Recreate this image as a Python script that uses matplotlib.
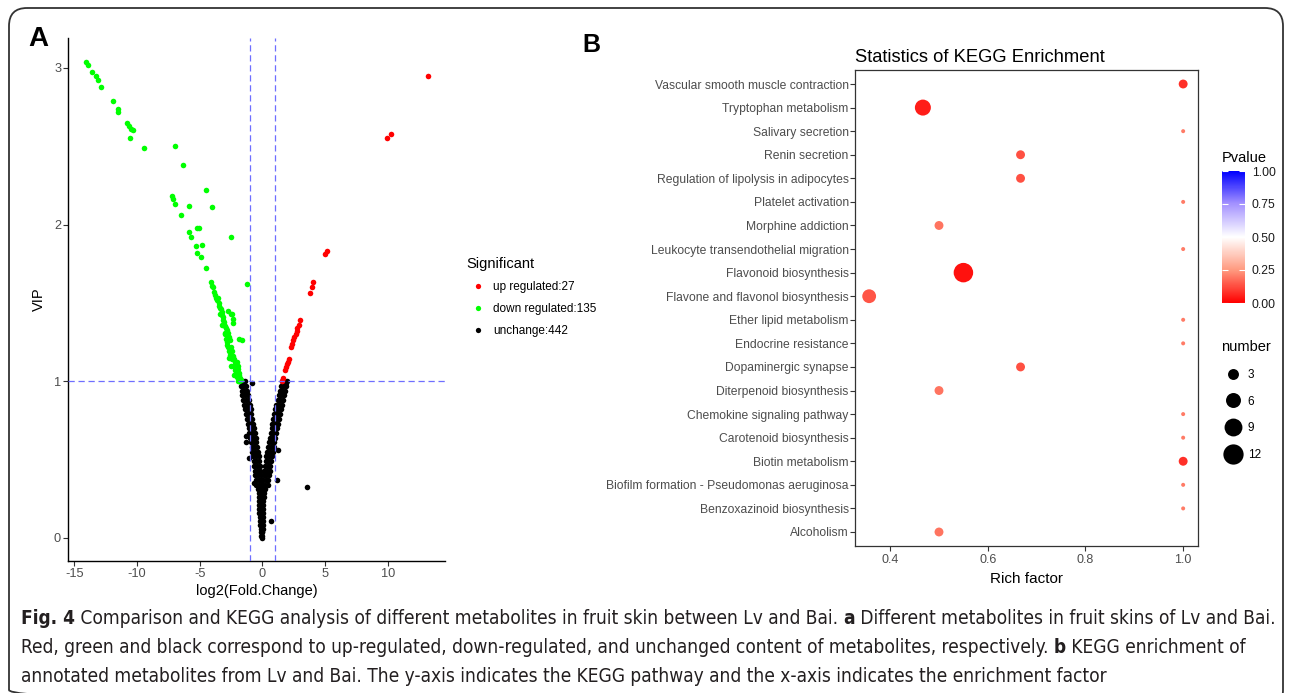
import numpy as np
import matplotlib
matplotlib.use("Agg")
import matplotlib.pyplot as plt
from matplotlib.lines import Line2D
from matplotlib.patches import FancyBboxPatch
from matplotlib.colors import LinearSegmentedColormap, Normalize
from matplotlib.cm import ScalarMappable
from matplotlib import font_manager

plt.rcParams['font.family'] = ['Liberation Sans', 'DejaVu Sans']
plt.rcParams['axes.unicode_minus'] = False

# ---------------- panel A: volcano (log2 FC, VIP) ----------------
up_pts = [(13.24, 2.95), (10.29, 2.58), (9.92, 2.55), (5.16, 1.83), (4.97, 1.81),
          (4.02, 1.63), (3.94, 1.60), (3.80, 1.56), (3.01, 1.39), (2.90, 1.36),
          (2.80, 1.34), (2.74, 1.32), (2.66, 1.30), (2.55, 1.28), (2.47, 1.26),
          (2.37, 1.24), (2.29, 1.22), (2.11, 1.14), (2.03, 1.12), (1.95, 1.11),
          (1.87, 1.09), (1.80, 1.07), (1.65, 1.02), (1.55, 1.00)]

down_pts = [(-14.08, 3.04), (-13.92, 3.02), (-13.58, 2.97), (-13.29, 2.95), (-13.13, 2.92),
            (-12.84, 2.88), (-11.93, 2.79), (-11.51, 2.74), (-11.48, 2.72), (-10.79, 2.65),
            (-10.63, 2.63), (-10.47, 2.61), (-10.34, 2.60), (-10.58, 2.55), (-9.43, 2.49),
            (-6.94, 2.50), (-6.30, 2.38), (-4.51, 2.22), (-7.20, 2.18), (-7.10, 2.16),
            (-6.96, 2.13), (-5.87, 2.12), (-4.01, 2.11), (-6.46, 2.06), (-5.85, 1.95),
            (-5.66, 1.92), (-5.21, 1.98), (-5.02, 1.98), (-2.50, 1.92), (-5.31, 1.86),
            (-4.81, 1.87), (-5.18, 1.82), (-4.89, 1.79), (-4.49, 1.72), (-1.20, 1.62),
            (-4.09, 1.63), (-4.01, 1.61), (-3.91, 1.60), (-3.83, 1.57), (-3.77, 1.55),
            (-3.72, 1.53), (-3.59, 1.52), (-3.45, 1.50), (-3.43, 1.48), (-3.29, 1.46),
            (-3.24, 1.44), (-3.16, 1.41), (-3.11, 1.39), (-3.05, 1.38), (-3.03, 1.36),
            (-2.95, 1.35), (-2.92, 1.34), (-2.84, 1.33), (-2.97, 1.31), (-2.76, 1.31),
            (-2.63, 1.28), (-2.71, 1.28), (-2.58, 1.26), (-2.84, 1.23), (-2.52, 1.22),
            (-2.44, 1.19), (-2.63, 1.19), (-2.31, 1.16), (-2.23, 1.14), (-2.18, 1.12),
            (-2.04, 1.12), (-2.10, 1.09), (-1.96, 1.10), (-1.91, 1.08), (-1.83, 1.05),
            (-1.88, 1.04), (-1.78, 1.02), (-1.72, 1.01), (-2.71, 1.45), (-2.50, 1.43),
            (-2.44, 1.43), (-2.31, 1.40), (-2.36, 1.37), (-1.83, 1.27), (-1.64, 1.26),
            (-3.35, 1.47), (-3.20, 1.42), (-3.00, 1.30), (-2.90, 1.27), (-2.80, 1.25),
            (-2.70, 1.22), (-2.55, 1.17), (-2.40, 1.14), (-2.30, 1.10), (-2.20, 1.07),
            (-2.10, 1.05), (-2.00, 1.03), (-1.95, 1.00), (-1.85, 1.00), (-3.50, 1.53),
            (-3.38, 1.43), (-3.18, 1.36), (-2.65, 1.15), (-2.48, 1.10), (-2.28, 1.04)]

unchanged_pts = [
    # left arm
    (-1.80, 1.00), (-1.58, 1.00), (-1.36, 1.00), (-1.73, 0.97), (-1.51, 0.97), (-1.29, 0.97),
    (-1.66, 0.94), (-1.44, 0.94), (-1.22, 0.94), (-1.59, 0.91), (-1.37, 0.91), (-1.15, 0.91),
    (-1.52, 0.88), (-1.30, 0.88), (-1.08, 0.88), (-1.45, 0.85), (-1.23, 0.85), (-1.01, 0.85),
    (-1.38, 0.82), (-1.16, 0.82), (-0.94, 0.82), (-1.31, 0.79), (-1.09, 0.79), (-0.87, 0.79),
    (-1.24, 0.76), (-1.02, 0.76), (-0.80, 0.76), (-1.17, 0.73), (-0.95, 0.73), (-0.73, 0.73),
    (-1.10, 0.70), (-0.88, 0.70), (-0.66, 0.70), (-1.04, 0.67), (-0.82, 0.67), (-0.60, 0.67),
    (-0.98, 0.64), (-0.76, 0.64), (-0.54, 0.64), (-0.92, 0.61), (-0.70, 0.61), (-0.48, 0.61),
    (-0.86, 0.58), (-0.64, 0.58), (-0.42, 0.58), (-0.80, 0.55), (-0.58, 0.55), (-0.36, 0.55),
    (-0.74, 0.52), (-0.52, 0.52), (-0.30, 0.52), (-0.69, 0.49), (-0.47, 0.49), (-0.25, 0.49),
    (-0.64, 0.46), (-0.42, 0.46), (-0.20, 0.46), (-0.59, 0.43), (-0.37, 0.43), (-0.15, 0.43),
    (-0.55, 0.40), (-0.33, 0.40), (-0.11, 0.40), (-0.51, 0.37), (-0.29, 0.37), (-0.07, 0.37),
    (-0.47, 0.34), (-0.25, 0.34), (-0.03, 0.34),
    # right arm
    (1.97, 1.00), (1.75, 1.00), (1.53, 1.00), (1.89, 0.97), (1.67, 0.97), (1.45, 0.97),
    (1.81, 0.94), (1.59, 0.94), (1.37, 0.94), (1.73, 0.91), (1.51, 0.91), (1.29, 0.91),
    (1.65, 0.88), (1.43, 0.88), (1.21, 0.88), (1.57, 0.85), (1.35, 0.85), (1.13, 0.85),
    (1.49, 0.82), (1.27, 0.82), (1.05, 0.82), (1.41, 0.79), (1.19, 0.79), (0.97, 0.79),
    (1.33, 0.76), (1.11, 0.76), (0.89, 0.76), (1.25, 0.73), (1.03, 0.73), (0.81, 0.73),
    (1.18, 0.70), (0.96, 0.70), (0.74, 0.70), (1.11, 0.67), (0.89, 0.67), (0.67, 0.67),
    (1.04, 0.64), (0.82, 0.64), (0.60, 0.64), (0.97, 0.61), (0.75, 0.61), (0.53, 0.61),
    (0.90, 0.58), (0.68, 0.58), (0.46, 0.58), (0.83, 0.55), (0.61, 0.55), (0.39, 0.55),
    (0.77, 0.52), (0.55, 0.52), (0.33, 0.52), (0.71, 0.49), (0.49, 0.49), (0.27, 0.49),
    (0.65, 0.46), (0.43, 0.46), (0.21, 0.46), (0.59, 0.43), (0.37, 0.43), (0.15, 0.43),
    (0.54, 0.40), (0.32, 0.40), (0.10, 0.40), (0.49, 0.37), (0.27, 0.37), (0.05, 0.37),
    (0.44, 0.34), (0.22, 0.34), (0.00, 0.34),
    # stem
    (-0.32, 0.31), (-0.18, 0.31), (-0.04, 0.31), (0.10, 0.31), (0.20, 0.31),
    (-0.30, 0.285), (-0.16, 0.285), (-0.02, 0.285), (0.12, 0.285),
    (-0.28, 0.26), (-0.15, 0.26), (-0.02, 0.26), (0.10, 0.26),
    (-0.27, 0.235), (-0.14, 0.235), (-0.01, 0.235), (0.09, 0.235),
    (-0.26, 0.21), (-0.13, 0.21), (0.00, 0.21), (0.08, 0.21),
    (-0.25, 0.185), (-0.12, 0.185), (0.00, 0.185), (0.07, 0.185),
    (-0.23, 0.16), (-0.11, 0.16), (0.01, 0.16), (0.06, 0.16),
    (-0.21, 0.135), (-0.10, 0.135), (0.01, 0.135), (0.05, 0.135),
    (-0.19, 0.11), (-0.09, 0.11), (0.02, 0.11),
    (-0.17, 0.085), (-0.07, 0.085), (0.02, 0.085),
    (-0.14, 0.06), (-0.05, 0.06), (0.02, 0.06),
    (-0.11, 0.035), (-0.04, 0.035), (0.01, 0.035),
    (-0.08, 0.01), (-0.02, 0.01), (-0.04, 0.00),
    # scattered
    (-0.85, 0.99), (1.87, 0.99), (-1.30, 0.65), (-1.30, 0.61), (-1.04, 0.51), (1.25, 0.56),
    (1.15, 0.37), (3.56, 0.325), (0.72, 0.11), (-0.64, 0.35)]

legend_labels = ['up regulated:27', 'down regulated:135', 'unchange:442']

# ---------------- panel B: KEGG enrichment ----------------
pathways = ['Vascular smooth muscle contraction', 'Tryptophan metabolism', 'Salivary secretion',
            'Renin secretion', 'Regulation of lipolysis in adipocytes', 'Platelet activation',
            'Morphine addiction', 'Leukocyte transendothelial migration', 'Flavonoid biosynthesis',
            'Flavone and flavonol biosynthesis', 'Ether lipid metabolism', 'Endocrine resistance',
            'Dopaminergic synapse', 'Diterpenoid biosynthesis', 'Chemokine signaling pathway',
            'Carotenoid biosynthesis', 'Biotin metabolism', 'Biofilm formation - Pseudomonas aeruginosa',
            'Benzoxazinoid biosynthesis', 'Alcoholism']
rich_factor = [1.0, 0.467, 1.0, 0.667, 0.667, 1.0, 0.5, 1.0, 0.55, 0.357,
               1.0, 1.0, 0.667, 0.5, 1.0, 1.0, 1.0, 1.0, 1.0, 0.5]
hit_number = [2, 7, 1, 2, 2, 1, 2, 1, 11, 5, 1, 1, 2, 2, 1, 1, 2, 1, 1, 2]
pvalue = [0.08, 0.05, 0.2, 0.13, 0.13, 0.2, 0.19, 0.2, 0.03, 0.14,
          0.2, 0.2, 0.13, 0.19, 0.2, 0.2, 0.08, 0.2, 0.2, 0.19]
size_breaks = [3, 6, 9, 12]
p_ticks = [0, 0.25, 0.5, 0.75, 1.0]

caption_lines = [
    [("Fig. 4", "bold"),
     (" Comparison and KEGG analysis of different metabolites in fruit skin between Lv and Bai. ", "normal"),
     ("a", "bold"), (" Different metabolites in fruit skins of Lv and Bai.", "normal")],
    [("Red, green and black correspond to up-regulated, down-regulated, and unchanged content of "
      "metabolites, respectively. ", "normal"), ("b", "bold"), (" KEGG enrichment of", "normal")],
    [("annotated metabolites from Lv and Bai. The y-axis indicates the KEGG pathway and the x-axis "
      "indicates the enrichment factor", "normal")],
]

W, H = 1290, 693
fig = plt.figure(figsize=(W / 100, H / 100), dpi=100)


def frac(l, t, r, b):
    return [l / W, 1 - b / H, (r - l) / W, (b - t) / H]


bg = fig.add_axes([0, 0, 1, 1], zorder=-5)
bg.set_xlim(0, W)
bg.set_ylim(H, 0)
bg.axis('off')
bg.add_patch(FancyBboxPatch((9, 8), 1274, 700, boxstyle='round,pad=0,rounding_size=18',
                            fill=False, ec='#333333', lw=1.3))

# ---- A ----
axA = fig.add_axes(frac(68, 38, 445, 561))
groups = [(unchanged_pts, 'black'), (down_pts, '#00ff00'), (up_pts, '#ff0000')]
for pts, col in groups:
    xs, ys = zip(*pts)
    axA.scatter(xs, ys, s=16, c=col, lw=0, zorder=2)
dash = dict(color='#6f6fff', ls=(0, (5, 3)), lw=0.9, zorder=3)
axA.axvline(-1, **dash)
axA.axvline(1, **dash)
axA.axhline(1, **dash)
axA.set_xlim(-15.5, 14.57)
axA.set_ylim(-0.147, 3.19)
axA.set_xticks([-15, -10, -5, 0, 5, 10])
axA.set_yticks([0, 1, 2, 3])
for s in ['top', 'right']:
    axA.spines[s].set_visible(False)
for s in ['left', 'bottom']:
    axA.spines[s].set_color('black')
    axA.spines[s].set_linewidth(1.0)
axA.tick_params(length=3.5, width=0.8, color='#333333', labelcolor='#4d4d4d', labelsize=9.2, pad=1.5)
axA.set_xlabel('log2(Fold.Change)', fontsize=10.5, labelpad=3)
axA.set_ylabel('VIP', fontsize=10.5, labelpad=6)

handlesA = [Line2D([], [], marker='o', ls='', color=c, markersize=3.8, markeredgewidth=0)
            for c in ['#ff0000', '#00ff00', 'black']]
fig.legend(handlesA, legend_labels, title='Significant', loc='upper left',
           bbox_to_anchor=(466 / W, 1 - 257 / H), frameon=False, fontsize=8.5, title_fontsize=10.5,
           alignment='left', handlelength=2.0, handletextpad=0.3, labelspacing=0.85,
           borderpad=0, borderaxespad=0)

# ---- B ----
cmap = LinearSegmentedColormap.from_list(
    'pval', [(0, '#ff0000'), (0.25, '#ff9a80'), (0.5, '#ffffff'), (0.75, '#a593ff'), (1, '#0000ff')])
norm = Normalize(0, 1)
n_lo, n_hi = min(hit_number), max(hit_number)


def dot_px(n):
    return 3.1 * (1 + 5 * np.sqrt((n - n_lo) / (n_hi - n_lo))) + 0.9


axB = fig.add_axes(frac(855, 70, 1198.3, 546))
rows = np.arange(len(pathways))[::-1]
sizes = [(dot_px(n) * 0.72) ** 2 for n in hit_number]
axB.scatter(rich_factor, rows, s=sizes, c=pvalue, cmap=cmap, norm=norm, lw=0, zorder=2)
axB.set_yticks(rows)
axB.set_yticklabels(pathways)
axB.set_ylim(-0.594, len(pathways) - 1 + 0.594)
axB.set_xlim(0.328, 1.031)
axB.set_xticks([0.4, 0.6, 0.8, 1.0])
axB.set_xticklabels(['0.4', '0.6', '0.8', '1.0'])
for s in axB.spines.values():
    s.set_color('#333333')
    s.set_linewidth(0.9)
axB.tick_params(length=3.5, width=0.8, color='#333333', labelcolor='#4d4d4d', labelsize=8.7)
axB.tick_params(axis='y', pad=1)
axB.tick_params(axis='x', pad=2.5, labelsize=9)
axB.set_xlabel('Rich factor', fontsize=11, labelpad=4)
axB.set_title('Statistics of KEGG Enrichment', loc='left', fontsize=13.2, pad=6)

cax = fig.add_axes(frac(1222, 171, 1245, 303))
cb = fig.colorbar(ScalarMappable(norm=norm, cmap=cmap), cax=cax)
cb.set_ticks(p_ticks)
cb.set_ticklabels(['%.2f' % v for v in p_ticks])
cb.outline.set_visible(False)
cax.tick_params(direction='in', color='white', labelcolor='#1a1a1a', length=4, width=0.8,
                left=True, right=True, labelsize=8.7, pad=5)
bg.text(1222, 158, 'Pvalue', fontsize=10.5, va='center', ha='left')

handlesB = [Line2D([], [], marker='o', ls='', color='black', markersize=dot_px(n) * 0.72,
                   markeredgewidth=0) for n in size_breaks]
fig.legend(handlesB, [str(n) for n in size_breaks], title='number', loc='upper left',
           bbox_to_anchor=(1221 / W, 1 - 340 / H), frameon=False, fontsize=8.5, title_fontsize=10.5,
           alignment='left', handlelength=2.0, handletextpad=0.25, labelspacing=1.25,
           borderpad=0, borderaxespad=0)

# ---- panel letters ----
bg.text(28, 46, 'A', fontsize=20, fontweight='bold', va='baseline')
bg.text(582, 52, 'B', fontsize=18, fontweight='bold', va='baseline')

# ---- caption ----
cap_kw = dict(family='Liberation Sans')
for f in font_manager.fontManager.ttflist:
    if f.name == 'DejaVu Sans' and str(f.stretch) in ('condensed', 'semi-condensed', '75', '87'):
        cap_kw = dict(family='DejaVu Sans', fontstretch='condensed')
        break
renderer = fig.canvas.get_renderer()


def write_line(pieces, y, size):
    x = 21
    arts = []
    for txt, wt in pieces:
        t = bg.text(x, y, txt, fontsize=size, fontweight=wt, va='baseline', ha='left',
                    color='#231f20', **cap_kw)
        x += t.get_window_extent(renderer).width
        arts.append(t)
    return x, arts


end, tmp = write_line(caption_lines[0], 624, 14)
for t in tmp:
    t.remove()
cap_size = 14 * 1259 / (end - 21)
for pieces, y in zip(caption_lines, [624, 653, 682]):
    write_line(pieces, y, cap_size)

fig.savefig('out.png', dpi=100)
